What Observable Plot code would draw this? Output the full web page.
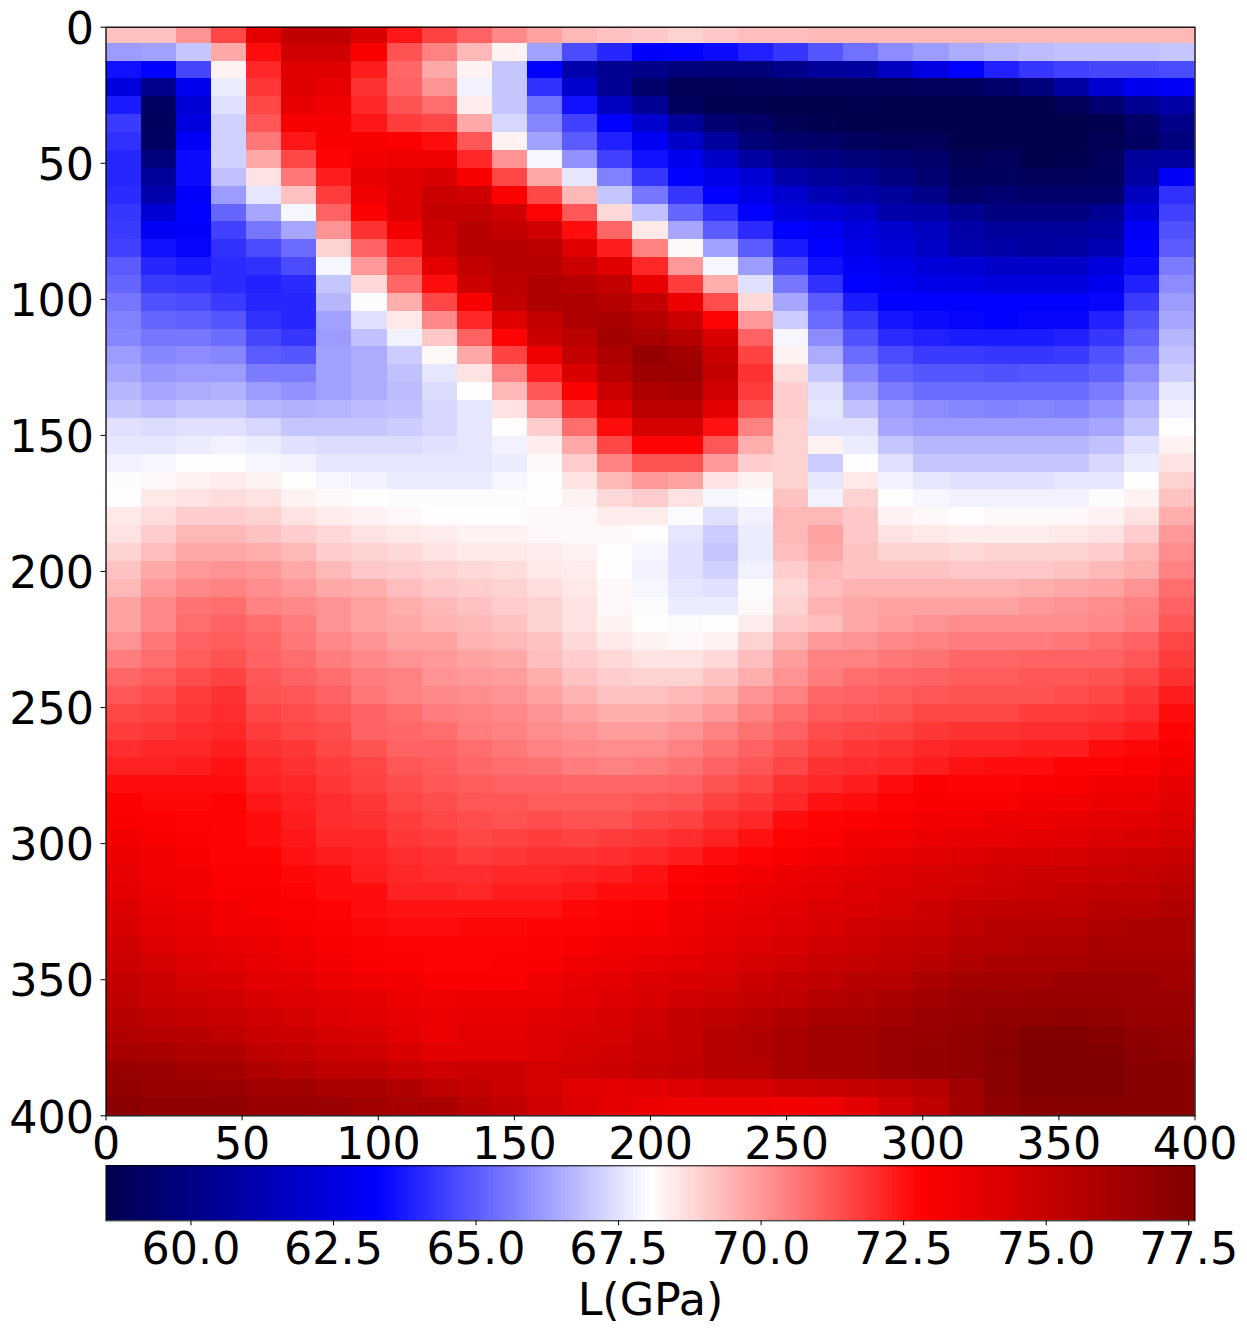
<!DOCTYPE html>
<html><head><meta charset="utf-8">
<script src="https://cdn.jsdelivr.net/npm/d3@7"></script>
<script src="https://cdn.jsdelivr.net/npm/@observablehq/plot@0.6"></script>
<style>html,body{margin:0;padding:0;background:#fff}svg{display:block}</style>
</head><body><div id="chart"></div>
<script>
const xTicks = [0,50,100,150,200,250,300,350,400];
const yTicks = [0,50,100,150,200,250,300,350,400];
const colorTicks = [60,62.5,65,67.5,70,72.5,75,77.5];
const colorLevels = [58.51,63.29,68.06,72.84,77.61];
const colorStops = ["#00004d","#0000ff","#ffffff","#ff0000","#800000"];
const colStep = 400/31, rowStart = -0.69, rowStep = 6.566;
const L = [
[69.2,69.2,70.1,71.5,73.8,75.2,75.2,74.3,72.4,71.6,71.0,70.3,69.8,69.4,69.2,69.1,68.9,69.1,69.3,69.3,69.4,69.4,69.4,69.4,69.4,69.4,69.4,69.4,69.4,69.4,69.4],
[66.2,66.3,67.0,69.7,72.6,74.6,74.6,73.0,71.3,70.4,69.4,68.3,66.3,64.7,64.0,63.2,63.3,63.5,63.9,64.3,64.9,65.4,65.9,66.2,66.5,66.7,66.8,66.9,66.9,66.9,67.0],
[63.6,63.3,64.6,68.3,72.1,74.0,74.0,72.3,70.9,69.7,68.3,67.0,63.3,61.1,60.3,60.1,59.8,59.7,59.7,60.1,60.6,60.7,61.6,62.5,63.3,63.9,64.3,64.5,64.6,64.6,64.7],
[62.4,60.2,62.9,67.7,71.8,74.0,73.7,71.9,71.0,70.1,67.8,67.0,64.2,62.0,60.4,59.3,58.7,58.7,58.8,58.9,58.8,58.8,58.8,58.9,59.0,59.3,59.8,60.8,62.1,62.9,63.1],
[63.8,59.1,62.2,67.5,71.5,73.7,73.4,72.1,71.3,70.8,68.4,67.0,65.4,63.6,61.6,60.4,59.0,58.6,58.6,58.5,58.5,58.6,58.5,58.5,58.5,58.5,58.5,58.8,59.5,60.4,60.9],
[64.4,59.0,62.4,67.2,71.2,73.1,73.1,72.4,71.7,71.5,69.7,67.3,65.8,64.5,63.3,62.0,60.6,59.5,59.2,58.7,58.6,58.5,58.5,58.5,58.5,58.5,58.5,58.5,58.6,59.2,60.1],
[64.2,59.1,63.1,67.2,70.6,72.4,73.0,73.1,72.9,72.6,71.2,68.3,66.3,65.0,63.9,63.0,61.8,60.7,59.7,59.3,59.2,59.0,58.8,58.8,58.5,58.5,58.5,58.5,58.7,59.1,59.8],
[64.0,59.8,63.5,67.2,69.7,71.5,72.8,73.3,73.4,73.4,72.1,70.1,67.9,66.0,64.5,63.6,62.9,61.8,60.8,60.1,59.9,59.7,59.5,59.3,58.7,58.9,58.5,58.6,58.9,60.6,60.7],
[64.0,60.6,63.5,66.9,68.6,70.6,72.3,73.7,74.0,74.3,73.1,71.5,69.7,67.6,65.7,64.3,63.3,62.7,62.2,61.0,60.6,60.4,59.9,59.5,59.0,59.0,58.8,58.8,59.0,60.8,63.1],
[64.1,61.1,63.2,66.2,67.6,69.2,71.7,73.4,74.0,74.8,74.6,72.9,71.5,69.4,67.0,65.5,64.3,63.3,62.7,62.0,61.3,60.9,60.6,60.1,59.3,59.5,59.3,59.3,59.3,61.6,64.2],
[64.3,62.2,63.3,65.2,66.4,67.9,71.0,72.9,74.0,75.0,75.1,74.6,72.8,71.2,68.8,66.9,65.2,64.2,63.3,62.4,62.2,61.8,61.0,60.9,60.4,59.9,59.9,59.9,60.4,62.3,64.5],
[64.4,63.1,63.2,64.5,65.5,66.4,70.1,71.9,73.2,74.8,75.5,75.1,74.6,72.6,70.9,68.5,66.4,65.0,64.1,63.3,63.0,62.4,62.0,61.6,60.9,60.6,60.6,60.6,60.8,63.1,64.8],
[64.5,63.6,63.4,64.2,64.7,65.3,68.9,71.0,72.3,74.6,75.5,75.5,75.4,74.0,72.3,70.4,68.2,66.3,65.0,63.8,63.3,62.7,62.3,61.8,61.2,60.9,60.7,60.8,61.3,63.3,65.0],
[65.0,64.0,63.8,64.1,64.2,64.7,67.9,70.0,71.5,73.8,75.1,75.5,75.5,74.8,74.0,72.1,70.0,67.9,66.2,64.6,63.6,63.1,62.7,62.3,62.2,61.8,61.8,61.8,62.4,63.5,65.6],
[65.2,64.4,64.3,64.1,63.9,64.1,67.0,68.8,70.9,72.6,74.7,75.4,75.9,75.6,75.1,73.7,71.7,69.6,67.5,65.5,64.2,63.3,63.0,62.7,62.6,62.4,62.4,62.4,62.9,63.9,65.9],
[65.5,64.8,64.7,64.4,64.0,64.0,66.7,68.0,69.6,71.5,73.1,75.1,75.9,75.9,75.6,75.0,73.5,71.4,68.8,66.4,65.0,63.8,63.3,63.3,63.3,63.3,63.3,63.3,63.4,64.4,66.2],
[65.7,65.2,65.1,64.9,64.2,64.0,66.3,67.5,68.5,70.3,72.1,74.0,75.1,75.9,76.1,75.6,74.7,72.8,70.0,67.1,65.3,64.4,63.7,63.5,63.4,63.3,63.4,63.4,63.9,64.8,66.4],
[65.8,65.5,65.5,65.3,64.6,64.3,66.2,66.9,67.8,69.1,71.0,72.8,74.8,75.4,76.3,76.1,75.6,74.2,71.0,67.9,65.9,64.8,64.1,63.9,63.8,63.8,63.8,63.9,64.3,65.1,66.7],
[66.2,65.8,65.9,65.8,65.0,64.9,66.3,66.5,67.1,68.2,69.7,71.6,73.4,75.0,75.9,76.8,76.3,74.8,71.6,68.3,66.5,65.3,64.7,64.4,64.4,64.3,64.3,64.4,64.8,65.5,66.9],
[66.4,66.1,66.2,66.2,65.6,65.6,66.3,66.5,66.9,67.6,68.6,70.4,72.3,74.2,75.6,76.5,76.5,75.0,71.9,68.7,67.0,65.8,65.1,64.9,64.9,64.8,64.9,64.9,65.1,65.9,67.1],
[66.7,66.4,66.5,66.6,66.2,66.0,66.3,66.5,66.8,67.4,68.1,69.4,71.2,72.9,74.8,75.9,76.1,74.6,71.7,69.0,67.5,66.3,65.6,65.3,65.3,65.3,65.3,65.3,65.6,66.3,67.6],
[67.0,66.8,67.0,67.0,66.7,66.6,66.7,66.8,66.9,67.3,67.6,68.6,70.1,71.9,74.0,75.4,75.4,73.8,71.3,69.0,67.6,66.9,66.2,65.9,65.8,65.7,65.8,65.7,66.0,66.7,67.8],
[67.5,67.4,67.5,67.5,67.3,67.0,67.0,67.0,67.1,67.3,67.6,68.1,69.0,70.8,72.6,74.4,74.4,72.5,70.4,68.9,67.5,67.5,66.4,66.2,66.2,66.2,66.2,66.2,66.4,67.0,68.1],
[67.6,67.6,67.7,67.8,67.7,67.5,67.4,67.4,67.4,67.5,67.6,67.8,68.4,69.7,71.5,72.8,72.8,71.2,69.6,68.9,68.3,67.7,67.0,66.7,66.7,66.7,66.7,66.7,66.9,67.5,68.3],
[67.8,67.9,68.1,68.1,67.9,67.8,67.6,67.6,67.6,67.6,67.6,67.7,68.2,69.0,70.4,71.3,71.3,70.0,69.0,68.9,67.1,68.1,67.5,67.0,67.0,67.0,67.0,67.0,67.3,67.7,68.6],
[68.0,68.2,68.3,68.4,68.3,68.1,67.9,67.8,67.7,67.7,67.7,67.9,68.1,68.6,69.4,70.0,69.8,68.6,68.3,68.9,67.6,68.5,67.8,67.6,67.5,67.5,67.5,67.6,67.6,68.1,68.9],
[68.1,68.5,68.6,68.7,68.6,68.3,68.2,68.1,68.0,68.0,68.0,68.0,68.1,68.3,68.8,69.0,68.6,67.9,68.0,69.2,67.8,68.9,68.1,67.9,67.8,67.8,67.8,67.8,68.0,68.3,69.2],
[68.5,68.7,69.0,69.0,68.9,68.6,68.4,68.3,68.2,68.1,68.1,68.1,68.2,68.2,68.4,68.4,68.0,67.5,67.8,69.4,69.4,69.1,68.3,68.2,68.1,68.2,68.2,68.2,68.3,68.6,69.6],
[68.6,69.0,69.4,69.4,69.2,69.0,68.8,68.6,68.5,68.4,68.3,68.3,68.2,68.2,68.2,68.1,67.6,67.1,67.7,69.4,69.8,69.1,68.6,68.5,68.4,68.4,68.4,68.5,68.6,69.0,70.0],
[68.9,69.3,69.7,69.7,69.6,69.4,69.0,68.9,68.8,68.6,68.5,68.5,68.4,68.3,68.1,67.9,67.5,67.0,67.7,69.3,69.7,69.2,68.9,68.9,68.8,68.9,68.9,68.9,69.0,69.4,70.2],
[69.2,69.7,70.0,70.1,70.0,69.7,69.4,69.1,69.0,68.9,68.8,68.7,68.5,68.4,68.1,67.8,67.5,67.2,67.8,69.0,69.4,69.2,69.2,69.2,69.1,69.1,69.1,69.2,69.4,69.6,70.4],
[69.4,70.0,70.3,70.4,70.2,70.0,69.7,69.6,69.3,69.1,69.0,68.9,68.7,68.5,68.2,67.9,67.6,67.5,68.0,68.8,69.3,69.5,69.5,69.5,69.5,69.5,69.6,69.7,69.8,70.1,70.8],
[69.8,70.3,70.7,70.8,70.4,70.3,70.1,69.8,69.6,69.4,69.2,69.0,68.9,68.6,68.2,68.0,67.7,67.7,68.2,68.9,69.5,69.7,69.8,69.8,69.8,69.8,70.0,70.1,70.2,70.4,71.0],
[69.8,70.3,70.8,71.0,70.8,70.5,70.1,69.8,69.7,69.5,69.4,69.2,68.9,68.6,68.3,68.1,68.0,68.1,68.4,69.1,69.3,69.7,69.9,70.1,70.2,70.2,70.2,70.2,70.3,70.5,71.2],
[70.1,70.6,71.0,71.1,70.9,70.6,70.3,70.1,69.8,69.8,69.5,69.4,69.2,68.8,68.5,68.3,68.2,68.3,68.9,69.5,70.0,70.1,70.3,70.4,70.5,70.5,70.5,70.6,70.8,71.0,71.5],
[70.5,70.8,71.1,71.3,71.0,70.8,70.5,70.3,70.1,70.0,69.8,69.7,69.3,69.0,68.8,68.6,68.6,68.8,69.3,69.9,70.4,70.4,70.6,70.7,70.9,70.9,71.0,71.0,71.0,71.2,71.7],
[70.9,71.1,71.4,71.6,71.2,71.0,70.8,70.5,70.4,70.1,70.0,69.9,69.6,69.2,69.0,68.9,68.9,69.2,69.6,70.1,70.5,70.8,70.9,71.0,71.1,71.1,71.2,71.2,71.3,71.5,71.9],
[71.2,71.4,71.7,71.9,71.3,71.2,71.0,70.6,70.4,70.3,70.2,70.1,69.8,69.5,69.2,69.2,69.4,69.6,70.1,70.4,70.9,71.0,71.1,71.2,71.3,71.3,71.3,71.4,71.5,71.8,72.3],
[71.5,71.6,71.8,72.0,71.5,71.4,71.2,71.0,70.8,70.5,70.4,70.3,70.1,69.8,69.6,69.6,69.7,70.0,70.4,70.8,71.1,71.2,71.3,71.5,71.5,71.5,71.7,71.7,71.8,72.0,72.6],
[71.7,71.8,72.0,72.1,71.7,71.5,71.4,71.0,70.9,70.8,70.5,70.4,70.2,70.1,69.9,69.9,70.1,70.4,70.7,71.0,71.4,71.5,71.6,71.8,71.9,71.9,72.0,72.0,72.1,72.3,72.8],
[72.0,72.1,72.1,72.3,71.9,71.8,71.5,71.3,71.0,71.0,70.8,70.6,70.4,70.3,70.2,70.2,70.4,70.7,71.0,71.3,71.6,71.8,71.9,72.1,72.2,72.2,72.3,72.3,72.6,72.7,73.0],
[72.2,72.2,72.3,72.5,72.1,71.9,71.7,71.5,71.2,71.1,70.9,70.8,70.7,70.5,70.4,70.5,70.7,71.0,71.2,71.5,71.9,72.0,72.1,72.3,72.5,72.6,72.6,72.8,72.8,72.9,73.3],
[72.6,72.6,72.6,72.6,72.2,72.1,71.8,71.6,71.4,71.2,71.1,71.0,71.0,70.9,70.9,70.9,71.0,71.3,71.5,71.9,72.1,72.3,72.6,72.9,72.8,72.8,72.9,73.0,73.2,73.3,73.7],
[72.9,72.7,72.7,72.8,72.4,72.2,72.0,71.8,71.5,71.4,71.2,71.2,71.1,71.1,71.1,71.2,71.3,71.6,71.8,72.1,72.5,72.6,72.8,73.0,73.0,73.0,73.2,73.3,73.5,73.5,73.9],
[73.0,72.9,72.8,72.8,72.6,72.3,72.0,71.9,71.7,71.5,71.4,71.3,71.4,71.3,71.3,71.5,71.6,71.9,72.1,72.6,72.8,72.9,73.0,73.2,73.3,73.5,73.5,73.7,73.8,73.9,74.1],
[73.3,73.0,72.9,72.8,72.6,72.4,72.1,72.1,71.8,71.7,71.5,71.6,71.7,71.6,71.7,71.8,72.0,72.2,72.5,72.8,72.9,73.2,73.3,73.5,73.7,73.7,73.8,73.9,74.1,74.2,74.4],
[73.5,73.2,73.0,72.8,72.8,72.5,72.3,72.2,72.0,71.9,71.7,71.8,71.9,71.9,72.0,72.1,72.3,72.6,72.8,73.0,73.3,73.5,73.7,73.9,74.1,74.2,74.2,74.4,74.6,74.7,74.9],
[73.7,73.3,73.2,72.9,72.9,72.7,72.6,72.3,72.1,72.0,72.0,72.1,72.1,72.2,72.3,72.5,72.8,73.0,73.2,73.5,73.7,73.8,74.1,74.2,74.4,74.6,74.7,74.7,74.9,75.0,75.2],
[73.8,73.5,73.3,73.0,73.0,72.8,72.6,72.6,72.2,72.2,72.1,72.3,72.3,72.4,72.6,72.6,73.0,73.2,73.5,73.7,73.8,74.1,74.2,74.4,74.6,74.7,74.9,75.0,75.2,75.3,75.5],
[74.1,73.7,73.5,73.2,73.0,72.9,72.8,72.6,72.5,72.5,72.5,72.5,72.5,72.7,72.8,72.9,73.2,73.5,73.7,73.9,74.1,74.2,74.4,74.7,75.0,75.2,75.3,75.3,75.5,75.6,75.8],
[74.2,73.8,73.7,73.3,73.2,73.0,72.9,72.7,72.6,72.6,72.7,72.7,72.8,72.8,72.9,73.0,73.4,73.7,73.8,74.1,74.2,74.6,74.7,74.9,75.3,75.5,75.5,75.6,75.8,76.0,76.1],
[74.6,74.1,73.8,73.7,73.5,73.3,73.0,72.9,72.8,72.8,72.8,72.8,72.9,73.0,73.2,73.4,73.5,73.8,74.1,74.2,74.6,74.7,75.0,75.2,75.5,75.6,75.8,75.8,76.1,76.1,76.1],
[74.7,74.4,74.1,73.9,73.7,73.5,73.2,73.0,72.9,72.8,72.8,72.9,73.0,73.4,73.5,73.7,73.8,74.1,74.4,74.6,74.9,75.0,75.3,75.5,75.8,76.0,76.1,76.1,76.3,76.3,76.3],
[75.0,74.7,74.4,74.2,73.9,73.8,73.5,73.4,73.2,73.0,73.0,73.0,73.4,73.7,73.8,74.1,74.2,74.4,74.7,75.0,75.2,75.5,75.6,76.0,76.3,76.4,76.4,76.6,76.6,76.6,76.4],
[75.2,74.9,74.7,74.6,74.2,74.1,73.9,73.8,73.5,73.4,73.5,73.5,73.5,73.8,74.1,74.2,74.6,74.7,75.0,75.3,75.6,75.8,76.1,76.4,76.6,76.6,76.7,76.7,76.7,76.6,76.6],
[75.5,75.2,75.0,74.9,74.6,74.4,74.1,73.9,73.7,73.5,73.7,73.7,73.9,74.1,74.2,74.6,75.0,75.3,75.5,75.8,76.0,76.1,76.3,76.6,76.7,76.9,76.9,77.0,76.9,76.7,76.7],
[75.8,75.6,75.5,75.2,74.9,74.7,74.4,74.2,73.8,73.5,73.8,73.8,74.1,74.2,74.4,74.7,75.0,75.5,75.8,76.1,76.3,76.4,76.6,76.7,76.9,77.1,77.5,77.5,77.3,77.0,76.9],
[76.1,76.0,75.8,75.8,75.2,75.0,74.7,74.6,74.2,73.9,73.9,73.9,74.1,74.4,74.6,74.9,75.0,75.5,75.8,76.1,76.3,76.4,76.6,76.8,76.9,77.3,77.6,77.6,77.5,77.2,77.0],
[76.7,76.6,76.4,76.3,75.8,75.6,75.3,75.2,74.9,74.6,74.7,74.7,74.4,74.6,74.7,75.0,75.2,75.5,75.6,76.1,76.3,76.4,76.6,76.8,76.9,77.2,77.6,77.6,77.6,77.3,77.3],
[76.9,76.7,76.7,76.6,76.4,76.4,76.1,76.0,75.8,75.3,75.0,74.7,74.4,73.9,73.8,73.9,74.1,74.4,74.4,74.7,74.9,75.0,75.2,75.6,76.4,77.2,77.6,77.6,77.6,77.3,77.3],
[77.2,77.0,77.0,77.0,76.7,76.7,76.6,76.4,76.1,76.0,75.5,75.2,74.6,74.1,73.8,73.5,73.4,73.4,73.4,73.2,73.4,73.9,74.6,75.3,76.3,77.0,77.3,77.4,77.4,77.3,77.3]
];
const cells = L.flatMap((row, r) => row.map((v, c) => ({
  x1: c*colStep, x2: (c+1)*colStep, y1: rowStart + r*rowStep, y2: rowStart + (r+1)*rowStep, v})));
const fs = 44.4, font = "DejaVu Sans";
const colorScale = {type:"linear", domain: colorLevels, range: colorStops, clamp:true};

const main = Plot.plot({
  width:1247, height:1165,
  marginLeft:105.5, marginRight:52.5, marginTop:26.7, marginBottom:49.7,
  style:{fontFamily:font, background:"#fff", color:"#000", overflow:"visible"},
  x:{domain:[0,400]}, y:{domain:[0,400], reverse:true},
  color:colorScale,
  marks:[
    Plot.rect(cells,{x1:"x1",x2:"x2",y1:"y1",y2:"y2",fill:"v",clip:true,shapeRendering:"crispEdges"}),
    Plot.frame({stroke:"#000",strokeWidth:1.3}),
    Plot.axisX({ticks:xTicks,tickSize:5,tickPadding:7,fontSize:fs,label:null,anchor:"bottom",stroke:"#000",fill:"#000",strokeWidth:1}),
    Plot.axisY({ticks:yTicks,tickSize:5,tickFormat:()=>"",label:null,anchor:"left",stroke:"#000",strokeWidth:1}),
    Plot.axisY({ticks:yTicks,tickSize:0,tickPadding:12,dy:2.5,fontSize:fs,label:null,anchor:"left",fill:"#000"})
  ]
});

const barValues = d3.range(256).map(i => colorLevels[0] + (i+0.5)*(colorLevels[4]-colorLevels[0])/256);
const barStep = (colorLevels[4]-colorLevels[0])/256;
const bar = Plot.plot({
  width:1247, height:166,
  marginLeft:105.5, marginRight:52.5, marginTop:0.3, marginBottom:110.7,
  style:{fontFamily:font, background:"#fff", color:"#000", overflow:"visible"},
  x:{domain:[colorLevels[0],colorLevels[4]]}, y:{domain:[0,1],axis:null},
  color:colorScale,
  marks:[
    Plot.rect(barValues,{x1:d=>d-barStep/2,x2:d=>d+barStep/2,y1:0,y2:1,fill:d=>d,shapeRendering:"crispEdges"}),
    Plot.frame({stroke:"#000",strokeWidth:1}),
    Plot.axisX({ticks:colorTicks,tickFormat:d3.format(".1f"),tickSize:5,tickPadding:7,fontSize:fs,anchor:"bottom",
      label:"L(GPa)",labelAnchor:"center",labelArrow:"none",labelOffset:94,stroke:"#000",fill:"#000",strokeWidth:1})
  ]
});
const host = document.getElementById("chart");
host.append(main, bar);
</script></body></html>
